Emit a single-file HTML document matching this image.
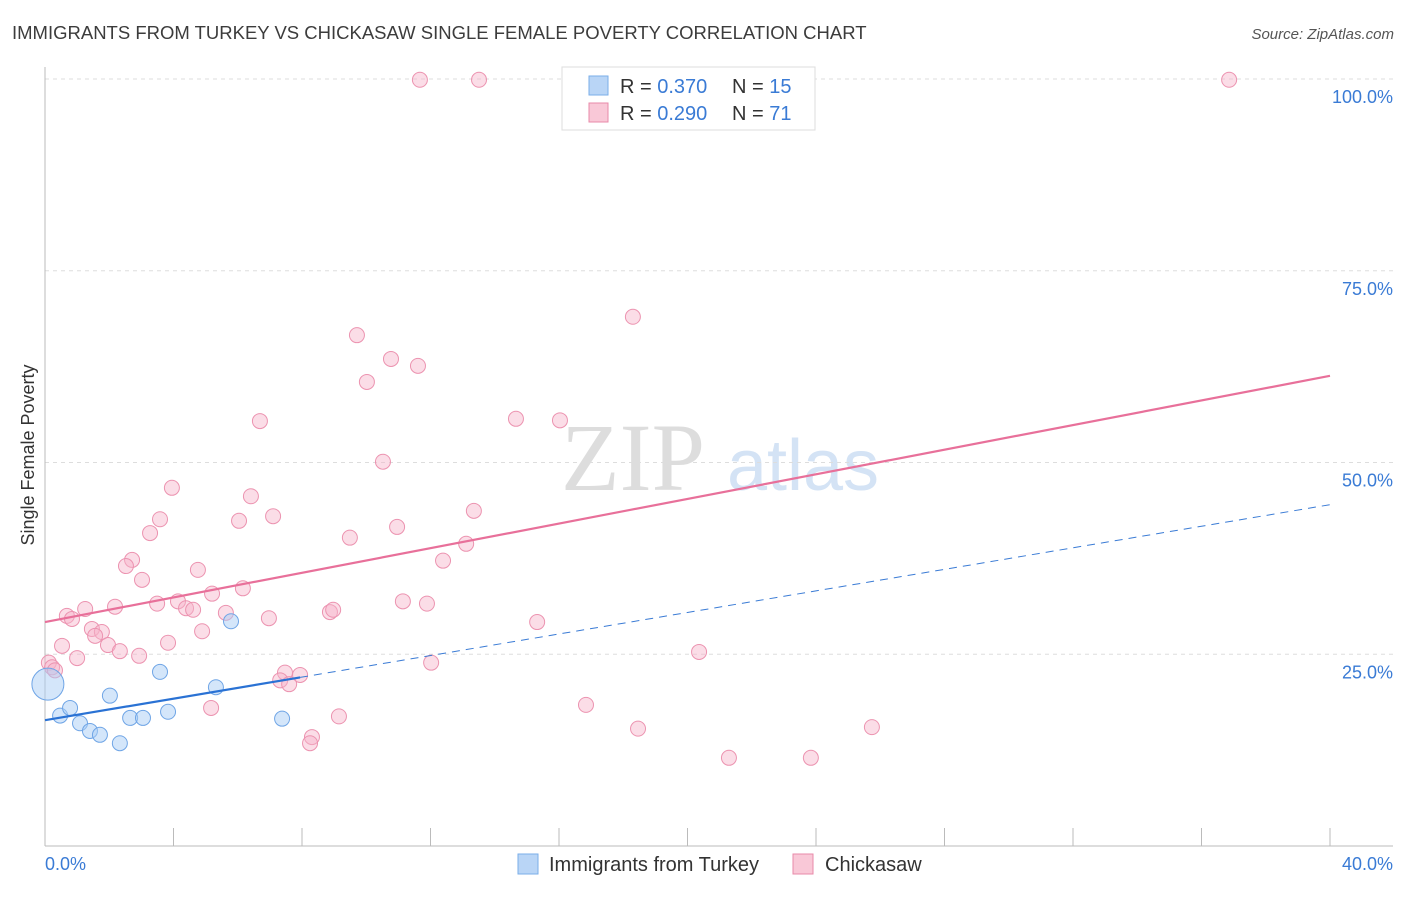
<!DOCTYPE html>
<html><head><meta charset="utf-8"><style>
body{margin:0;background:#fff;font-family:"Liberation Sans",sans-serif;}
svg text{font-family:"Liberation Sans",sans-serif;}
</style></head><body>
<svg id="chart" width="1406" height="892" viewBox="0 0 1406 892">
<text x="12" y="39" font-size="18.5" fill="#3c3c3c">IMMIGRANTS FROM TURKEY VS CHICKASAW SINGLE FEMALE POVERTY CORRELATION CHART</text>
<text x="1394" y="39" font-size="15" fill="#555" text-anchor="end" font-style="italic">Source: ZipAtlas.com</text>
<g>
<text x="633" y="490" font-size="96" fill="#ddd" text-anchor="middle" font-family="Liberation Serif" style="font-family:'Liberation Serif',serif">ZIP</text>
<text x="803" y="490" font-size="72" fill="#d4e3f5" text-anchor="middle">atlas</text>
</g>
<g id="grid"></g>
<g id="axes"></g>
<g id="marks"></g>
<text transform="translate(34,455) rotate(-90)" font-size="18" fill="#333" text-anchor="middle">Single Female Poverty</text>
<g>
<rect x="562" y="67" width="253" height="63" fill="#fff" stroke="#ddd"/>
<rect x="589" y="76" width="19" height="19" fill="#b9d5f6" stroke="#7aaee8"/>
<rect x="589" y="103" width="19" height="19" fill="#f9c8d7" stroke="#e88aa8"/>
<text x="620" y="93" font-size="20" fill="#333">R = <tspan fill="#3a7bd5">0.370</tspan></text>
<text x="732" y="93" font-size="20" fill="#333">N = <tspan fill="#3a7bd5">15</tspan></text>
<text x="620" y="120" font-size="20" fill="#333">R = <tspan fill="#3a7bd5">0.290</tspan></text>
<text x="732" y="120" font-size="20" fill="#333">N = <tspan fill="#3a7bd5">71</tspan></text>
</g>
<g>
<rect x="518" y="854" width="20" height="20" fill="#b9d5f6" stroke="#7aaee8"/>
<text x="549" y="871" font-size="20" fill="#333">Immigrants from Turkey</text>
<rect x="793" y="854" width="20" height="20" fill="#f9c8d7" stroke="#e88aa8"/>
<text x="825" y="871" font-size="20" fill="#333">Chickasaw</text>
</g>
</svg>
<script>
const xTicks=[0,4,8,12,16,20,24,28,32,36,40];
const yTicks=[25,50,75,100];
const yTickLabels=["25.0%","50.0%","75.0%","100.0%"];
const xEndLabels=["0.0%","40.0%"];
const turkeyX=[0.09,0.47,0.78,1.09,1.40,1.71,2.02,2.33,2.65,3.05,3.58,3.83,5.32,5.79,7.38];
const turkeyY=[21.1,17.0,18.0,16.0,15.0,14.5,19.6,13.4,16.7,16.7,22.7,17.5,20.7,29.3,16.6];
const chickX=[11.67,13.51,36.86,18.30,9.71,10.77,11.61,10.02,6.69,14.66,16.03,10.52,3.95,6.41,13.35,3.58,7.10,6.04,10.96,3.27,9.49,13.11,2.71,2.52,12.39,4.76,3.02,6.16,5.20,4.14,3.49,0.68,0.84,1.25,2.18,4.39,4.61,5.63,8.87,8.97,11.14,11.89,6.97,15.32,1.46,1.77,1.56,4.89,0.53,1.96,2.33,3.83,2.93,1.00,20.36,0.12,0.22,0.31,12.02,7.47,7.94,7.32,7.60,5.17,16.84,9.15,8.31,8.25,18.46,25.74,21.29,23.84];
const chickY=[99.9,99.9,99.9,69.0,66.6,63.5,62.6,60.5,55.4,55.7,55.5,50.1,46.7,45.6,43.7,42.6,43.0,42.4,41.6,40.8,40.2,39.4,37.3,36.5,37.2,36.0,34.7,33.6,32.9,31.9,31.6,30.0,29.6,30.9,31.2,31.0,30.8,30.4,30.5,30.8,31.9,31.6,29.7,29.2,28.3,27.9,27.4,28.0,26.1,26.2,25.4,26.5,24.8,24.5,25.3,23.9,23.3,22.9,23.9,22.6,22.3,21.6,21.1,18.0,18.4,16.9,14.2,13.4,15.3,15.5,11.5,11.5];
const chickTrend=[29.2,61.3];
const turkeyTrend=[16.4,44.5];
const turkeySolidEnd=7.94;
const NS="http://www.w3.org/2000/svg";
const sx=v=>45+v*32.125;
const sy=v=>846-v*7.67;
function mk(parent,tag,attrs){const e=document.createElementNS(NS,tag);for(const k in attrs)e.setAttribute(k,attrs[k]);document.getElementById(parent).appendChild(e);return e;}
yTicks.forEach((t,i)=>{
 const g=mk('grid','line',{x1:45,x2:1393,y1:sy(t),y2:sy(t),stroke:'#ddd','stroke-dasharray':'4,4'});
 
 
 const l=mk('axes','text',{x:1393,y:sy(t)+24,'font-size':18,fill:'#3a7bd5','text-anchor':'end'});
 l.textContent=yTickLabels[i];
 
 
});
const ya=mk('axes','line',{x1:45,x2:45,y1:67,y2:846,stroke:'#bbb'});


const xa=mk('axes','line',{x1:45,x2:1393,y1:846,y2:846,stroke:'#bbb'});


xTicks.forEach(t=>{
 const tk=mk('axes','line',{x1:sx(t),x2:sx(t),y1:828,y2:846,stroke:'#bbb'});
 
 
});
[[0,'start',45],[40,'end',1393]].forEach((d,i)=>{
 const l=mk('axes','text',{x:d[2],y:870,'font-size':18,fill:'#3a7bd5','text-anchor':d[1]});
 l.textContent=xEndLabels[i];
 
 
});
chickX.forEach((x,i)=>{
 const c=mk('marks','circle',{cx:sx(x),cy:sy(chickY[i]),r:7.5,fill:'rgba(247,180,202,0.45)',stroke:'#ec93b0','stroke-width':1});
 
 
});
turkeyX.forEach((x,i)=>{
 const c=mk('marks','circle',{cx:sx(x),cy:sy(turkeyY[i]),r:i===0?16:7.5,fill:'rgba(170,205,245,0.5)',stroke:'#6fa5e6','stroke-width':1});
 
 
});
const pl=mk('marks','line',{x1:sx(0),y1:sy(chickTrend[0]),x2:sx(40),y2:sy(chickTrend[1]),stroke:'#e8709a','stroke-width':2.2});


const tAt=x=>turkeyTrend[0]+(turkeyTrend[1]-turkeyTrend[0])*x/40;
const bd=mk('marks','line',{x1:sx(turkeySolidEnd),y1:sy(tAt(turkeySolidEnd)),x2:sx(40),y2:sy(turkeyTrend[1]),stroke:'#3a7bd5','stroke-width':1,'stroke-dasharray':'8,6'});


const bl=mk('marks','line',{x1:sx(0),y1:sy(turkeyTrend[0]),x2:sx(turkeySolidEnd),y2:sy(tAt(turkeySolidEnd)),stroke:'#2a72d4','stroke-width':2.2});


</script>
</body></html>
